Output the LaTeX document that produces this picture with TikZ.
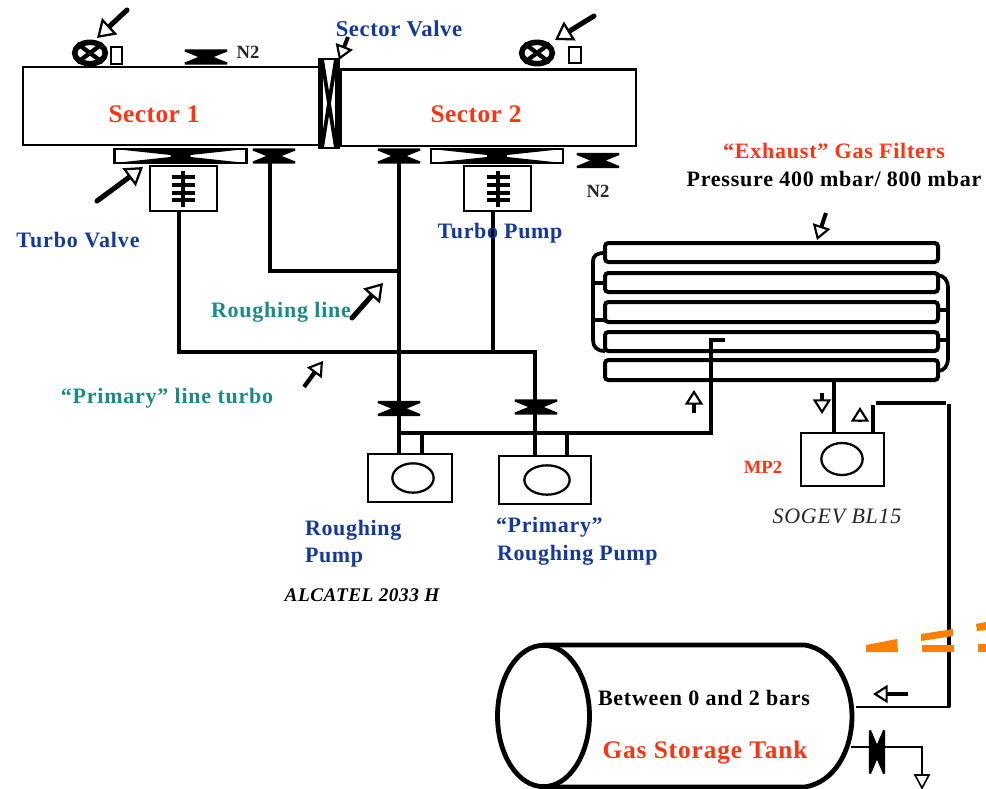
\documentclass[tikz,border=0pt]{standalone}
\usepackage{fontspec}
\setmainfont{Liberation Serif}
\usetikzlibrary{arrows.meta,fit,shapes.geometric}
\definecolor{tblue}{HTML}{12399B}
\definecolor{tred}{HTML}{FF3314}
\definecolor{tteal}{HTML}{1C8A85}
\definecolor{torange}{HTML}{FF8000}
\tikzset{
  pipe/.style={line width=3.2pt,line cap=butt,line join=miter},
  thinpipe/.style={line width=1.6pt},
  filter/.style={draw,line width=3pt,rounded corners=2.5pt},
  pbox/.style={draw,fill=white,line width=1.7pt,inner sep=0pt,outer sep=0pt},
  rotor/.style={draw,ellipse,line width=1.7pt},
  harrow/.style={line width=3.8pt,line cap=round,-{Triangle[fill=white,length=13pt,width=16.5pt,line width=1.7pt]}},
  sarrow/.style={line width=3.2pt,-{Triangle[fill=white,length=11pt,width=13.5pt,line width=1.6pt]}},
  lab/.style={inner sep=0pt,outer sep=0pt,font=\bfseries},
}
\newcommand{\ls}[1]{\addfontfeature{LetterSpace=#1}}
\newcommand{\lbl}[6][center]{\node[lab,anchor=#1,text=#5] (#2) at (#3) {\fontsize{#4}{#4}\selectfont #6};}
% bow-tie valve: name, x, y, half width, half height, rotation
\newcommand{\valve}[6]{%
  \coordinate (#1) at (#2,#3);
  \begin{scope}[shift={(#2,#3)},rotate=#6]
    \filldraw[line width=1.6pt,line join=bevel] (-#4,-#5) -- (#4,-#5) -- (5,0) -- (#4,#5) -- (-#4,#5) -- (-5,0) -- cycle;
  \end{scope}}
\newcommand{\gatevalve}[3]{%
  \coordinate (#1) at (#2,#3);
  \begin{scope}[shift={(#2,#3)}]
    \draw[line width=1.8pt] (-66,-7) rectangle (66,7);
    \fill (-66,-7) -- (66,-7) -- (10,-1) -- (10,1) -- (66,7) -- (-66,7) -- (-10,1) -- (-10,-1) -- cycle;
    \fill[white] (-63,-3.3) -- (-14,-0.4) -- (-14,0.4) -- (-63,3.3) -- cycle;
    \fill[white] (63,-3.3) -- (14,-0.4) -- (14,0.4) -- (63,3.3) -- cycle;
  \end{scope}}
\newcommand{\wheel}[3]{%
  \node[draw,ellipse,line width=4.2pt,minimum width=23pt,minimum height=16pt,inner sep=0pt,fill=white] (#1) at (#2,#3) {};
  \draw[line width=3.2pt] (#1.north west) -- (#1.south east) (#1.north east) -- (#1.south west);}
\newcommand{\shaft}[3]{%
  \begin{scope}[shift={(#2,#3)}]
    \coordinate (#1) at (0,0);
    \draw[line width=2.8pt] (0,-17) -- (0,19);
    \foreach \yy in {-11,-3,5,12} \draw[line width=2.8pt] (-11.5,\yy) -- (11.5,\yy);
  \end{scope}}
\newcommand{\harr}[5][harrow]{%
  \coordinate (#2s) at (#3); \coordinate (#2t) at (#4);
  \draw[#1] (#2s) -- (#2t);}
\begin{document}
\begin{tikzpicture}[x=0.75pt,y=-0.75pt]
\useasboundingbox (0,0) rectangle (986,789);
\clip (0,0) rectangle (986,789);

% junctions of the pipework
\coordinate (a1) at (179,211); \coordinate (a2) at (179,352); \coordinate (a3) at (535,352); \coordinate (a4) at (535,456);
\coordinate (b1) at (493,211); \coordinate (b2) at (493,352);
\coordinate (c1) at (270,160); \coordinate (c2) at (270,271); \coordinate (c3) at (400,271);
\coordinate (d1) at (399,160); \coordinate (d2) at (399,454);
\coordinate (e1) at (399,433); \coordinate (e2) at (711,433); \coordinate (e3) at (711,340); \coordinate (e4) at (725,340);
\coordinate (f1) at (422,433); \coordinate (f2) at (422,454);
\coordinate (g1) at (567,433); \coordinate (g2) at (567,456);

\draw[pipe] (a1) -- (a2) -- (a3) -- (a4);
\draw[pipe] (b1) -- (b2);
\draw[pipe] (c1) -- (c2) -- (c3);
\draw[pipe] (d1) -- (d2);
\draw[pipe] (e1) -- (e2) -- (e3) -- (e4);
\draw[pipe] (f1) -- (f2);
\draw[pipe] (g1) -- (g2);

% sectors
\node[pbox,fit={(23,67)(319,145)}] (s1) {};
\node[pbox,fit={(341,69.5)(636,146)}] (s2) {};

% sector valve
\node[pbox,fit={(319,59)(339,148)}] (sv) {};
\draw[line width=2.8pt] (321,59) -- (321,148) (337,59) -- (337,148) (322,59) -- (336,148) (336,59) -- (322,148);

% hand wheels
\wheel{w1}{90}{53}
\wheel{w2}{537}{53}
\node[pbox,fit={(111,47)(122,64)}] (r1) {};
\node[pbox,fit={(569,47)(581,63)}] (r2) {};

% valves
\valve{vn1}{206}{57}{21}{6.5}{0}
\valve{vr1}{274}{156}{21}{6.5}{0}
\valve{vr2}{399}{156}{21}{6.5}{0}
\valve{vn2}{598}{160.5}{21}{6.5}{0}
\valve{vp1}{399}{408.5}{21}{6.5}{0}
\valve{vp2}{536}{407}{21}{6.5}{0}
\gatevalve{tv1}{180.5}{156}
\gatevalve{tv2}{497}{156}

% turbo pumps
\node[pbox,fit={(150,166)(217,211)}] (tp1) {};
\node[pbox,fit={(464,166)(531,211)}] (tp2) {};
\shaft{sh1}{183}{188}
\shaft{sh2}{498}{188}

% roughing pumps
\node[pbox,fit={(368,454)(452,502)}] (rp) {};
\node[rotor,minimum width=31pt,minimum height=22pt,inner sep=0pt] (rpr) at (413,478) {};
\node[pbox,fit={(499,456)(591,504)}] (pp) {};
\node[rotor,minimum width=34pt,minimum height=22pt,inner sep=0pt] (ppr) at (547,480) {};

% filters
\draw[filter] (605,243) rectangle (938,262);
\draw[filter] (605,273) rectangle (938,292);
\draw[filter] (605,302) rectangle (938,322);
\draw[filter] (605,332) rectangle (938,351);
\draw[filter] (605,360) rectangle (938,380);
\coordinate (l1) at (605,253); \coordinate (l2) at (605,283); \coordinate (l3) at (605,320); \coordinate (l4) at (605,351);
\coordinate (m1) at (938,275); \coordinate (m2) at (938,310); \coordinate (m3) at (938,340); \coordinate (m4) at (938,371);
\draw[pipe,line width=2.8pt] (l1) .. controls (597,253) and (593,255) .. (593,262) -- (593,340) .. controls (593,347) and (597,351) .. (l4);
\draw[pipe,line width=2.8pt] (593,283) -- (l2) (593,320) -- (l3);
\draw[pipe,line width=2.8pt] (m1) .. controls (944,276) and (948,280) .. (948,288) -- (948,358) .. controls (948,366) and (944,371) .. (m4);
\draw[pipe,line width=2.8pt] (948,310) -- (m2) (948,340) -- (m3);

% MP2
\coordinate (h1) at (834,380); \coordinate (h2) at (834,433);
\coordinate (i1) at (873,433); \coordinate (i2) at (873,405);
\coordinate (j1) at (876,403); \coordinate (j2) at (946,403);
\coordinate (k1) at (949,404); \coordinate (k2) at (949,707); \coordinate (k3) at (856,707);
\draw[pipe] (h1) -- (h2);
\draw[pipe] (i1) -- (i2);
\draw[pipe] (j1) -- (j2);
\draw[line width=3.6pt] (k1) -- (k2);
\draw[line width=2.2pt] (950.3,707) -- (k3);
\node[pbox,fit={(801,433)(884,486)}] (mp) {};
\node[rotor,minimum width=31pt,minimum height=24pt,inner sep=0pt] (mpr) at (842,459) {};

% tank
\draw[line width=3.6pt] (543,645) -- (805,645) .. controls (835,650) and (852,685) .. (852,716) .. controls (852,750) and (835,782) .. (805,787) -- (543,787);
\node[draw,ellipse,line width=3.6pt,minimum width=69pt,minimum height=106pt,inner sep=0pt,fill=white] (tk) at (543.5,716) {};

% tank outlet
\coordinate (o1) at (851,747); \coordinate (o2) at (922,747); \coordinate (o3) at (922,775);
\draw[thinpipe] (o1) -- (o2) -- (o3);
\valve{vt}{877}{752}{21.5}{7}{90}
\draw[line width=1.2pt,fill=white] (915,775) -- (929,775) -- (922,788) -- cycle;

% open arrows
\harr{n1}{127,10}{97,38}{}
\harr{n2}{594,16}{555,40}{}
\harr[sarrow,line width=3pt]{n3}{348,37}{339,60}{}
\harr{n4}{97,201}{143,167}{}
\harr{n5}{352,318}{383,283}{}
\harr[sarrow]{n6}{304,387}{323,361}{}
\harr[sarrow,line width=3pt]{n7}{826,213}{817,240}{}
\harr[sarrow]{n8}{694,413}{694,390}{}
\harr[sarrow]{n9}{822,393}{822,414}{}
\harr[sarrow]{n10}{860,421}{860,407}{}
\harr[sarrow]{n11}{908,694}{873,694}{}

% orange dashes
\fill[torange] (866,645) -- (897,639) -- (898,652) -- (866,652) -- cycle;
\fill[torange] (921,634) -- (953,629) -- (953,636) -- (921,641) -- cycle;
\fill[torange] (922,645) -- (954,645) -- (954,652) -- (922,652) -- cycle;
\fill[torange] (976,624) -- (986,622) -- (986,630) -- (977,631) -- cycle;
\fill[torange] (978,644) -- (986,644) -- (986,652) -- (978,652) -- cycle;

% labels
\lbl{t1}{154,114}{19}{tred}{\ls{2}Sector 1}
\lbl{t2}{476,114}{19}{tred}{\ls{2}Sector 2}
\lbl{t3}{399,29}{17}{tblue}{\ls{2.5}Sector Valve}
\lbl{t4}{248,52}{14}{black!85}{N2}
\lbl{t5}{598,191}{14}{black!85}{N2}
\lbl{t6}{78,240}{16.5}{tblue}{\ls{4}Turbo Valve}
\lbl{t7}{500,233}{16.5}{tblue}{\ls{3}Turbo Pump}
\lbl{t8}{834,151}{16.5}{tred}{\ls{3.5}“Exhaust” Gas Filters}
\lbl{t9}{834,179}{16.5}{black}{\ls{3.5}Pressure 400 mbar/ 800 mbar}
\lbl{t10}{281,312}{16.5}{tteal}{\ls{3.5}Roughing line}
\lbl{t11}{167,398}{16.5}{tteal}{\ls{3.5}“Primary” line turbo}
\lbl[west]{t12}{305,530}{16.5}{tblue}{\ls{3}Roughing}
\lbl[west]{t13}{305,558}{16.5}{tblue}{\ls{3}Pump}
\lbl[west]{t14}{496,527}{16.5}{tblue}{\ls{3}“Primary”}
\lbl[west]{t15}{497,555}{16.5}{tblue}{\ls{3}Roughing Pump}
\node[lab,font=\bfseries\itshape] (t16) at (362,595) {\fontsize{14.5}{14.5}\selectfont\ls{2.5}ALCATEL 2033 H};
\node[lab,font=\itshape,text=black!85] (t17) at (837,516) {\fontsize{16.5}{16.5}\selectfont\ls{3.5}SOGEV BL15};
\lbl{t18}{763,467}{14}{tred}{MP2}
\lbl{t19}{704,698}{16.5}{black}{\ls{3.5}Between 0 and 2 bars}
\lbl{t20}{705,752}{19}{tred}{\ls{3.5}Gas Storage Tank}
\end{tikzpicture}
\end{document}
